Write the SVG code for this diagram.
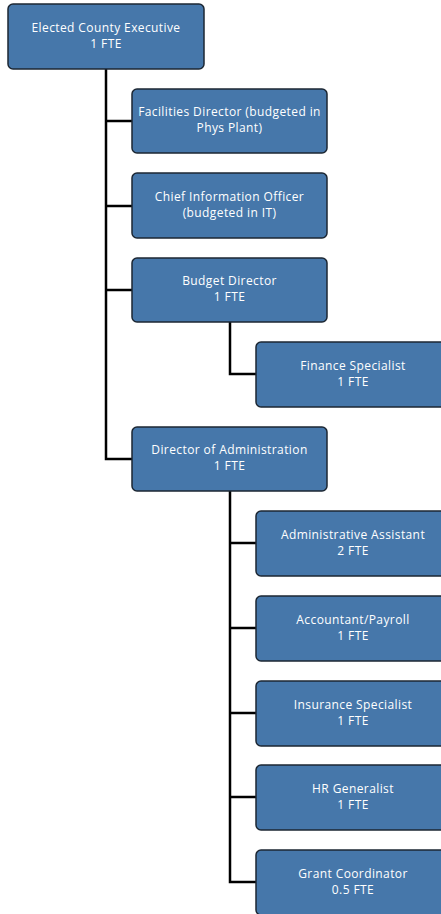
<svg xmlns="http://www.w3.org/2000/svg" width="441" height="914" viewBox="0 0 441 914">
<style>
.n{fill:#4677aa;stroke:#1c2733;stroke-width:1.5}
.t{fill:#ffffff;font-family:"Open Sans","Noto Sans","Liberation Sans",sans-serif;font-size:12px;font-weight:500;letter-spacing:0.4px;text-anchor:middle}
.c{fill:none;stroke:#000000;stroke-width:2.5}
</style>
<rect width="441" height="914" fill="#ffffff"/>
<g id="connectors">
<path class="c" d="M106 69V459H132M106 121H132M106 206H132M106 290H132"/>
<path class="c" d="M230 322V374H256"/>
<path class="c" d="M230 491V882H256M230 543H256M230 628H256M230 713H256M230 797H256"/>
</g>
<g id="n-exec"><rect class="n" x="8" y="4" width="196" height="65" rx="5"/><text class="t" y="31.5"><tspan x="106">Elected County Executive</tspan><tspan x="106" dy="16">1 FTE</tspan></text></g>
<g id="n-facilities"><rect class="n" x="132" y="89" width="195" height="64" rx="5"/><text class="t" y="116.3"><tspan x="229.5">Facilities Director (budgeted in</tspan><tspan x="229.5" dy="16">Phys Plant)</tspan></text></g>
<g id="n-cio"><rect class="n" x="132" y="173" width="195" height="65" rx="5"/><text class="t" y="200.8"><tspan x="229.5">Chief Information Officer</tspan><tspan x="229.5" dy="16">(budgeted in IT)</tspan></text></g>
<g id="n-budget"><rect class="n" x="132" y="258" width="195" height="64" rx="5"/><text class="t" y="285.3"><tspan x="229.5">Budget Director</tspan><tspan x="229.5" dy="16">1 FTE</tspan></text></g>
<g id="n-finance"><rect class="n" x="256" y="342" width="195" height="65" rx="5"/><text class="t" y="369.8"><tspan x="353">Finance Specialist</tspan><tspan x="353" dy="16">1 FTE</tspan></text></g>
<g id="n-admin"><rect class="n" x="132" y="427" width="195" height="64" rx="5"/><text class="t" y="454.3"><tspan x="229.5">Director of Administration</tspan><tspan x="229.5" dy="16">1 FTE</tspan></text></g>
<g id="n-asst"><rect class="n" x="256" y="511" width="195" height="65" rx="5"/><text class="t" y="538.8"><tspan x="353">Administrative Assistant</tspan><tspan x="353" dy="16">2 FTE</tspan></text></g>
<g id="n-acct"><rect class="n" x="256" y="596" width="195" height="65" rx="5"/><text class="t" y="623.8"><tspan x="353">Accountant/Payroll</tspan><tspan x="353" dy="16">1 FTE</tspan></text></g>
<g id="n-ins"><rect class="n" x="256" y="681" width="195" height="65" rx="5"/><text class="t" y="708.8"><tspan x="353">Insurance Specialist</tspan><tspan x="353" dy="16">1 FTE</tspan></text></g>
<g id="n-hr"><rect class="n" x="256" y="765" width="195" height="65" rx="5"/><text class="t" y="792.8"><tspan x="353">HR Generalist</tspan><tspan x="353" dy="16">1 FTE</tspan></text></g>
<g id="n-grant"><rect class="n" x="256" y="850" width="195" height="65" rx="5"/><text class="t" y="877.8"><tspan x="353">Grant Coordinator</tspan><tspan x="353" dy="16">0.5 FTE</tspan></text></g>
</svg>
